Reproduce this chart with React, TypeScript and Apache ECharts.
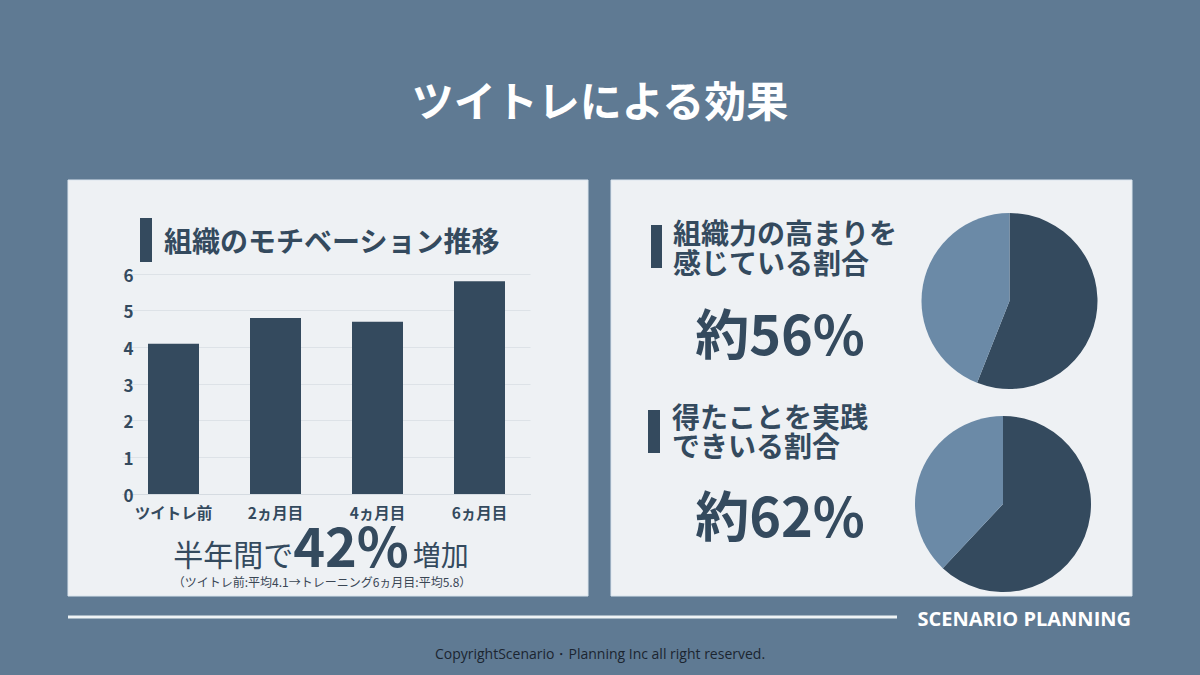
import React, { useEffect, useRef } from "react";
import * as echarts from "echarts";

const pageTitle = "ツイトレによる効果";
const barTitle = "組織のモチベーション推移";
const categories = ["ツイトレ前", "2ヵ月目", "4ヵ月目", "6ヵ月目"];
const motivation = [4.1, 4.8, 4.7, 5.8];
const yTicks = { min: 0, max: 6, interval: 1 };

const pie1Title = "組織力の高まりを\n感じている割合";
const pie1Label = "約56%";
const pie1Values = [56, 44];
const pie2Title = "得たことを実践\nできいる割合";
const pie2Label = "約62%";
const pie2Values = [62, 38];

const summaryPrefix = "半年間で";
const summaryValue = "42%";
const summarySuffix = "増加";
const summaryNote = "（ツイトレ前:平均4.1→トレーニング6ヵ月目:平均5.8）";
const brand = "SCENARIO PLANNING";
const copyright = "CopyrightScenario・Planning Inc all right reserved.";

const BG = "#5f7a93";
const PANEL = "#eef1f4";
const DARK = "#344a5e";
const LIGHT = "#6b8aa7";
const JP = "'Noto Sans CJK JP', 'Noto Sans', sans-serif";

export default function App() {
  const ref = useRef<HTMLDivElement>(null);
  useEffect(() => {
    document.body.style.margin = "0";
    const chart = echarts.init(ref.current!, null, { renderer: "svg" });
    const option: any = {
      animation: false,
      backgroundColor: BG,
      graphic: [
        { type: "rect", z: 0, shape: { x: 68, y: 180, width: 520, height: 416 }, style: { fill: PANEL, stroke: "#dbe5ee", lineWidth: 1 } },
        { type: "rect", z: 0, shape: { x: 611, y: 180, width: 521, height: 416 }, style: { fill: PANEL, stroke: "#dbe5ee", lineWidth: 1 } },
        { type: "text", z: 5, x: 600, y: 98, style: { text: pageTitle, fill: "#ffffff", font: `bold 42px ${JP}`, align: "center", verticalAlign: "middle" } },
        { type: "rect", z: 5, shape: { x: 140, y: 218, width: 12, height: 44 }, style: { fill: DARK } },
        { type: "text", z: 5, x: 164, y: 240, style: { text: barTitle, fill: DARK, font: `bold 28px ${JP}`, align: "left", verticalAlign: "middle" } },
        {
          type: "text", z: 5, x: 321, y: 568,
          style: {
            text: `{a|${summaryPrefix}}{b|${summaryValue}}{c|${summarySuffix}}`,
            align: "center", verticalAlign: "bottom",
            rich: {
              a: { fontFamily: JP, fontSize: 30, fontWeight: "normal", fill: DARK, verticalAlign: "bottom" },
              b: { fontFamily: JP, fontSize: 54, fontWeight: "bold", fill: DARK, verticalAlign: "bottom", lineHeight: 46, padding: [0, 4, -2, 0] },
              c: { fontFamily: JP, fontSize: 28, fontWeight: "normal", fill: DARK, verticalAlign: "bottom" },
            },
          },
        },
        { type: "text", z: 5, x: 322, y: 581, style: { text: summaryNote, fill: "#3a4654", font: `12px ${JP}`, align: "center", verticalAlign: "middle" } },
        { type: "rect", z: 5, shape: { x: 651, y: 225, width: 11, height: 43 }, style: { fill: DARK } },
        { type: "text", z: 5, x: 673, y: 217, style: { text: pie1Title, fill: DARK, font: `bold 28px ${JP}`, lineHeight: 30, align: "left", verticalAlign: "top" } },
        { type: "text", z: 5, x: 780, y: 331, style: { text: pie1Label, fill: DARK, font: `bold 54px ${JP}`, align: "center", verticalAlign: "middle" } },
        { type: "rect", z: 5, shape: { x: 648, y: 410, width: 12, height: 43 }, style: { fill: DARK } },
        { type: "text", z: 5, x: 672, y: 401, style: { text: pie2Title, fill: DARK, font: `bold 28px ${JP}`, lineHeight: 29, align: "left", verticalAlign: "top" } },
        { type: "text", z: 5, x: 780, y: 513, style: { text: pie2Label, fill: DARK, font: `bold 54px ${JP}`, align: "center", verticalAlign: "middle" } },
        { type: "line", z: 5, shape: { x1: 68, y1: 617, x2: 897, y2: 617 }, style: { stroke: "#eef3f5", lineWidth: 3 } },
        { type: "text", z: 5, x: 1131, y: 618, style: { text: brand, fill: "#ffffff", font: `bold 20px 'Liberation Sans Narrow', 'Open Sans', sans-serif`, align: "right", verticalAlign: "middle" } },
        { type: "text", z: 5, x: 600, y: 653, style: { text: copyright, fill: "#1b2530", font: `14px 'Liberation Sans Narrow', 'Open Sans', sans-serif`, align: "center", verticalAlign: "middle" } },
      ],
      grid: { left: 122.5, right: 669.5, top: 274, bottom: 181, containLabel: false },
      xAxis: {
        type: "category",
        data: categories,
        axisLine: { show: true, lineStyle: { color: "#d5dbe1", width: 1 } },
        axisTick: { show: false },
        axisLabel: { interval: 0, color: DARK, fontFamily: JP, fontWeight: "bold", fontSize: 15.5, margin: 10 },
      },
      yAxis: {
        type: "value",
        min: yTicks.min,
        max: yTicks.max,
        interval: yTicks.interval,
        axisLine: { show: false },
        axisTick: { show: false },
        axisLabel: { inside: true, color: DARK, fontFamily: JP, fontWeight: "bold", fontSize: 17, margin: 6, align: "center" },
        splitLine: { lineStyle: { color: "#dde2e7", width: 1 } },
      },
      series: [
        {
          type: "bar",
          data: motivation,
          barWidth: "50%",
          itemStyle: { color: DARK },
          z: 3,
        },
        {
          type: "pie",
          center: [1009.5, 301],
          radius: 88,
          startAngle: 90,
          clockwise: true,
          label: { show: false },
          labelLine: { show: false },
          data: [
            { value: pie1Values[0], itemStyle: { color: DARK } },
            { value: pie1Values[1], itemStyle: { color: LIGHT } },
          ],
        },
        {
          type: "pie",
          center: [1003, 504],
          radius: 88,
          startAngle: 90,
          clockwise: true,
          label: { show: false },
          labelLine: { show: false },
          data: [
            { value: pie2Values[0], itemStyle: { color: DARK } },
            { value: pie2Values[1], itemStyle: { color: LIGHT } },
          ],
        },
      ],
    };
    chart.setOption(option);
    return () => chart.dispose();
  }, []);
  return <div ref={ref} style={{ position: "absolute", left: 0, top: 0, width: 1200, height: 675 }} />;
}
